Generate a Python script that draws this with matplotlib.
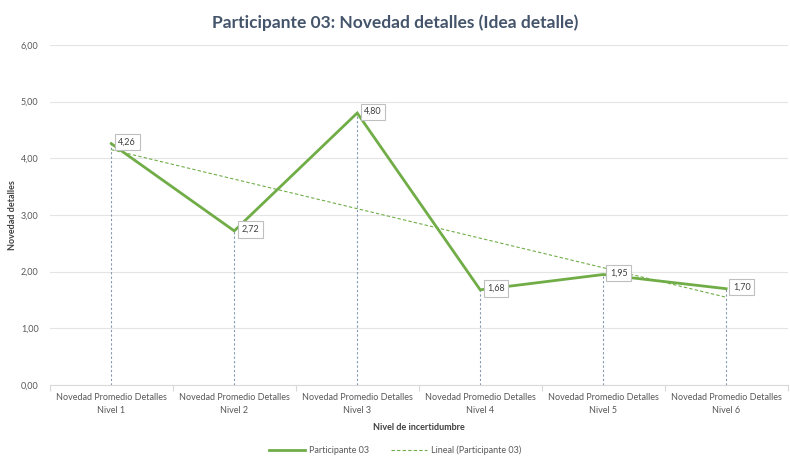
import matplotlib
matplotlib.use("Agg")
import matplotlib.pyplot as plt
import numpy as np
from matplotlib.lines import Line2D

plt.rcParams['font.family'] = ['Lato', 'DejaVu Sans']

categories = ["Novedad Promedio Detalles\nNivel 1", "Novedad Promedio Detalles\nNivel 2",
              "Novedad Promedio Detalles\nNivel 3", "Novedad Promedio Detalles\nNivel 4",
              "Novedad Promedio Detalles\nNivel 5", "Novedad Promedio Detalles\nNivel 6"]
values = [4.26, 2.72, 4.80, 1.68, 1.95, 1.70]
yticks = [0, 1, 2, 3, 4, 5, 6]

green = '#70AD47'
drop = '#8497B0'
txt = '#595959'

fig = plt.figure(figsize=(7.9, 4.57), dpi=100)
ax = fig.add_axes([0.063, 0.1575, 0.934, 0.744])

x = np.arange(len(values))
# drop lines
for xi, v in zip(x, values):
    ax.plot([xi, xi], [0, v], color=drop, lw=0.8, ls=(0, (2, 2)), zorder=2)

ax.plot(x, values, color=green, lw=2.0, zorder=4, solid_joinstyle='miter')
coef = np.polyfit(x + 1, values, 1)
trend = np.polyval(coef, x + 1)
ax.plot(x, trend, color=green, lw=0.8, ls=(0, (3, 2)), zorder=3)

for xi, v in zip(x, values):
    ax.annotate(f"{v:.2f}".replace('.', ','), (xi, v), xytext=(5, 1), textcoords='offset points',
                ha='left', va='center', fontsize=6.5, color='#404040', zorder=6,
                bbox=dict(boxstyle='square,pad=0.4', fc='white', ec='#BFBFBF', lw=0.8))

ax.set_xlim(-0.5, len(values) - 0.5)
ax.set_ylim(0, 6)
ax.set_yticks(yticks)
ax.set_yticklabels([f"{t:.2f}".replace('.', ',') for t in yticks], fontsize=6.5, color=txt)
ax.set_xticks(x)
ax.set_xticklabels(categories, fontsize=6.5, color=txt, linespacing=1.5)
ax.set_xticks(np.arange(-0.5, len(values) + 0.5, 1), minor=True)
ax.tick_params(axis='x', which='major', length=0, pad=6)
ax.tick_params(axis='x', which='minor', length=4, color='#D9D9D9', width=0.8)
ax.tick_params(axis='y', length=0, pad=8)
ax.grid(axis='y', color='#E4E4E4', lw=0.8)
ax.set_axisbelow(True)
for s in ['top', 'right', 'left']:
    ax.spines[s].set_visible(False)
ax.spines['bottom'].set_color('#D9D9D9')

ax.set_ylabel('Novedad detalles', fontsize=6.5, fontweight='bold', color='#404040')
ax.yaxis.set_label_coords(-0.045, 0.5)
ax.set_xlabel('Nivel de incertidumbre', fontsize=6.5, fontweight='bold', color='#404040', labelpad=6)

fig.text(0.5, 0.95, 'Participante 03: Novedad detalles (Idea detalle)', ha='center', va='center',
         fontsize=12.5, fontweight='bold', color='#44546A')

handles = [Line2D([0], [0], color=green, lw=2.0),
           Line2D([0], [0], color=green, lw=0.8, ls=(0, (3, 2)))]
fig.legend(handles, ['Participante 03', 'Lineal (Participante 03)'], loc='center',
           bbox_to_anchor=(0.5, 0.015), ncol=2, frameon=False, fontsize=6.5,
           labelcolor=txt, handlelength=4, columnspacing=2.5, handletextpad=0.4)

fig.savefig('out.png', dpi=100)
